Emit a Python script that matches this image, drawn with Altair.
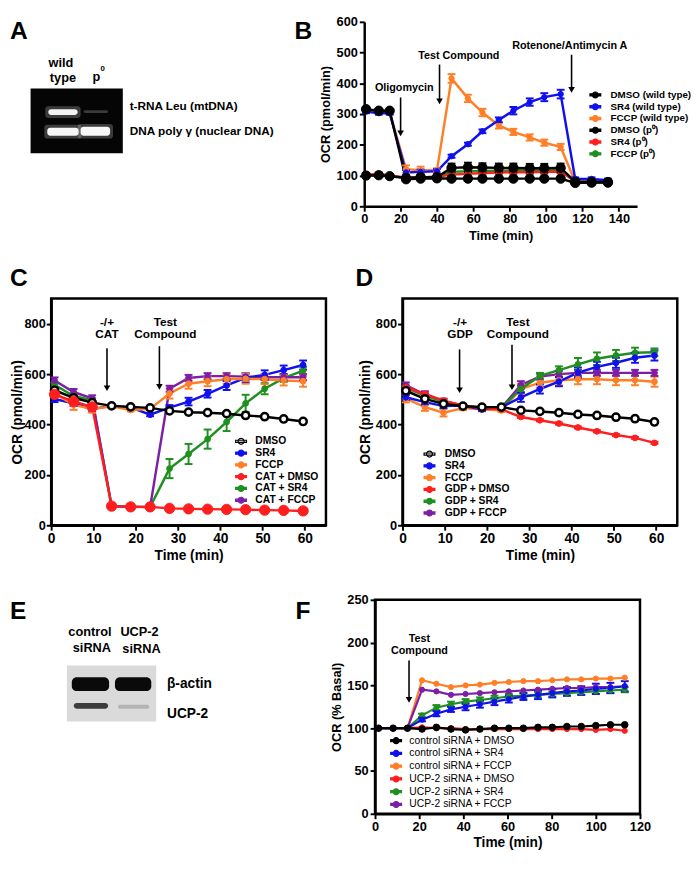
import altair as alt
import pandas as pd

FONT = "Liberation Sans"
BLACK, BLUE, ORANGE, RED, GREEN, PURPLE, WHITE = (
    "#000000", "#1010ee", "#ff7f27", "#ff1e1e", "#1f8f1f", "#7d1fa5", "#ffffff")
LEGEND_PATH = ("M-1,-0.2L1,-0.2L1,0.2L-1,0.2Z "
               "M0.55,0A0.55,0.55,0,1,1,-0.55,0A0.55,0.55,0,1,1,0.55,0Z")

# ======================= DATA =======================
# ---- Panel B : OCR (pmol/min), wild type vs p0 cells
b_time = [1, 8, 14, 23, 31, 40, 48, 57, 65, 74, 82, 91, 99, 108, 116, 125, 134]
b_names = ["DMSO (wild type)", "SR4 (wild type)", "FCCP (wild type)",
           "DMSO (p⁰)", "SR4 (p⁰)", "FCCP (p⁰)"]
b_dmso_wt = [316, 311, 311, 88, 90, 91, 90, 90, 90, 90, 90, 90, 90, 90, 76, 77, 77]
b_sr4_wt = [308, 303, 303, 110, 112, 114, 163, 202, 244, 281, 311, 339, 355, 365, 89, 89, 85]
b_fccp_wt = [312, 306, 305, 121, 117, 117, 416, 351, 305, 263, 242, 224, 207, 193, 80, 82, 82]
b_dmso_p0 = [100, 101, 98, 92, 95, 95, 125, 127, 126, 125, 125, 124, 124, 125, 80, 79, 79]
b_sr4_p0 = [103, 105, 100, 93, 94, 96, 103, 106, 108, 110, 111, 111, 112, 113, 82, 80, 80]
b_fccp_p0 = [100, 102, 99, 93, 94, 96, 112, 114, 115, 116, 117, 117, 118, 118, 78, 78, 78]
b_err_dmso_wt = [6, 5, 5, 4, 4, 4, 4, 4, 4, 4, 4, 4, 4, 4, 3, 3, 3]
b_err_sr4_wt = [5, 5, 5, 8, 8, 8, 5, 5, 6, 8, 12, 12, 13, 14, 5, 5, 5]
b_err_fccp_wt = [5, 5, 5, 12, 12, 6, 14, 12, 12, 10, 10, 10, 10, 10, 5, 5, 5]
b_err_dmso_p0 = [6, 6, 4, 5, 5, 5, 14, 15, 14, 14, 14, 14, 14, 14, 6, 4, 4]
b_err_sr4_p0 = [6, 6, 3, 3, 3, 3, 6, 6, 6, 6, 6, 6, 6, 6, 3, 3, 3]
b_err_fccp_p0 = [4, 4, 3, 3, 3, 3, 8, 8, 8, 8, 8, 8, 8, 8, 3, 3, 3]

# ---- Panel C : carboxyatractyloside (CAT)
c_time = [0.8, 5.3, 9.7, 14.3, 18.8, 23.4, 28.0, 32.5, 37.0, 41.5, 46.0, 50.5, 55.0, 59.6]
c_names = ["DMSO", "SR4", "FCCP", "CAT + DMSO", "CAT + SR4", "CAT + FCCP"]
c_dmso = [536, 506, 487, 474, 470, 466, 454, 449, 447, 443, 436, 431, 422, 412]
c_sr4 = [501, 484, 462, 474, 468, 439, 467, 491, 522, 555, 585, 597, 616, 636]
c_fccp = [523, 478, 462, 472, 458, 462, 523, 562, 572, 580, 582, 580, 575, 572]
c_cat_dmso = [520, 492, 470, 76, 73, 73, 67, 65, 64, 63, 62, 60, 59, 57]
c_cat_sr4 = [558, 513, 496, 75, 73, 72, 225, 283, 342, 410, 484, 542, 584, 614]
c_cat_fccp = [575, 529, 504, 76, 74, 72, 542, 585, 592, 592, 590, 588, 588, 588]
c_err_dmso = [8, 6, 5, 4, 4, 4, 4, 4, 4, 4, 4, 4, 4, 4]
c_err_sr4 = [12, 10, 10, 6, 6, 6, 10, 15, 15, 18, 18, 18, 18, 18]
c_err_fccp = [10, 20, 15, 6, 6, 6, 20, 20, 20, 18, 20, 20, 20, 22]
c_err_cat_dmso = [6, 5, 5, 6, 5, 5, 4, 4, 4, 4, 4, 4, 4, 4]
c_err_cat_sr4 = [10, 10, 8, 8, 8, 6, 38, 40, 38, 36, 34, 22, 15, 15]
c_err_cat_fccp = [12, 12, 12, 8, 8, 6, 12, 12, 12, 12, 12, 12, 12, 12]

# ---- Panel D : GDP
d_time = [0.8, 5.3, 9.7, 14.3, 18.8, 23.4, 28.0, 32.5, 37.0, 41.5, 46.0, 50.5, 55.0, 59.6]
d_names = ["DMSO", "SR4", "FCCP", "GDP + DMSO", "GDP + SR4", "GDP + FCCP"]
d_dmso = [534, 502, 482, 473, 469, 469, 456, 452, 447, 440, 436, 429, 423, 410]
d_sr4 = [508, 489, 473, 475, 460, 469, 508, 541, 570, 606, 629, 645, 665, 674]
d_fccp = [503, 469, 447, 465, 460, 456, 541, 566, 576, 580, 580, 576, 576, 570]
d_gdp_dmso = [547, 521, 495, 476, 465, 460, 430, 417, 404, 388, 373, 358, 347, 327]
d_gdp_sr4 = [545, 515, 490, 475, 468, 467, 541, 593, 616, 639, 661, 674, 685, 687]
d_gdp_fccp = [555, 520, 493, 475, 466, 466, 557, 590, 600, 605, 605, 605, 605, 605]
d_err_dmso = [8, 6, 5, 4, 4, 4, 4, 4, 4, 4, 4, 4, 4, 4]
d_err_sr4 = [10, 10, 8, 6, 6, 6, 18, 18, 18, 20, 20, 20, 20, 20]
d_err_fccp = [15, 15, 15, 8, 8, 6, 20, 20, 20, 20, 20, 20, 20, 20]
d_err_gdp_dmso = [6, 5, 5, 4, 4, 4, 4, 4, 4, 4, 4, 4, 4, 4]
d_err_gdp_sr4 = [10, 8, 8, 6, 6, 6, 12, 12, 15, 25, 25, 22, 20, 15]
d_err_gdp_fccp = [12, 12, 10, 6, 6, 6, 15, 12, 12, 12, 12, 12, 12, 12]

# ---- Panel F : OCR (% basal), siRNA
f_time = [1.6, 8.2, 14.7, 21.3, 27.8, 34.4, 41.0, 47.5, 54.1, 60.6, 67.2,
          73.8, 80.3, 86.9, 93.4, 100.0, 106.6, 113.1]
f_names = ["control siRNA + DMSO", "control siRNA + SR4", "control siRNA + FCCP",
           "UCP-2 siRNA + DMSO", "UCP-2 siRNA + SR4", "UCP-2 siRNA + FCCP"]
f_ctrl_dmso = [100, 100, 100, 99, 101, 99, 98, 99, 100, 100, 100, 101, 101, 102, 102, 103, 104, 104]
f_ctrl_sr4 = [100, 100, 100, 110, 117, 122, 125, 128, 131, 134, 137, 139, 141, 143, 144, 146, 147, 149]
f_ctrl_fccp = [100, 100, 100, 156, 152, 148, 150, 151, 153, 154, 155, 155, 156, 157, 157, 158, 158, 159]
f_ucp_dmso = [100, 100, 100, 101, 100, 100, 99, 99, 99, 99, 99, 99, 99, 99, 99, 98, 99, 97]
f_ucp_sr4 = [100, 100, 100, 115, 124, 128, 131, 133, 135, 137, 138, 139, 140, 141, 142, 143, 144, 145]
f_ucp_fccp = [100, 100, 100, 145, 143, 139, 140, 141, 142, 143, 144, 145, 146, 147, 147, 148, 148, 149]
f_err_none = [0, 0, 0, 0, 0, 0, 0, 0, 0, 0, 0, 0, 0, 0, 0, 0, 0, 0]
f_err_ctrl_sr4 = [0, 0, 0, 2, 3, 3, 4, 4, 4, 4, 4, 5, 5, 5, 5, 6, 6, 6]
f_err_ucp_sr4 = [0, 0, 0, 2, 3, 3, 3, 3, 3, 3, 3, 3, 3, 3, 3, 3, 3, 3]

# ---- annotations (label, time, value) and arrows (time, top, bottom)
b_notes = [("Oligomycin", 22, 385), ("Test Compound", 52, 489), ("Rotenone/Antimycin A", 113, 521)]
b_arrows = [(20, 354, 237), (41.4, 461, 341), (114, 493, 379)]
c_notes = [("-/+", 13.2, 808), ("CAT", 13.2, 758), ("Test", 27.0, 808), ("Compound", 27.0, 758)]
c_arrows = [(13.2, 703, 544), (25.6, 711, 549)]
d_notes = [("-/+", 13.6, 808), ("GDP", 13.6, 758), ("Test", 27.3, 808), ("Compound", 27.3, 758)]
d_arrows = [(13.5, 698, 536), (25.9, 717, 548)]
f_notes = [("Test", 20.1, 204), ("Compound", 20.1, 190)]
f_arrows = [(15.4, 179, 133)]

# ---- gel (A) and blot (E) pictures: (x0, x1, y0, y1, colour, opacity)
a_back = [(-21, 73, 68, 134, "#050505", 1.0)]
a_bands = [(-6, 30, 86, 98, WHITE, 0.22), (-3, 27, 89, 95, "#f2f2f2", 1.0),
           (-7, 31, 105, 119, WHITE, 0.22), (-4, 28, 108, 116, "#f5f5f5", 1.0),
           (33, 58, 90, 93, "#3a3a3a", 1.0),
           (27, 63, 104, 119, WHITE, 0.22), (30, 60, 107, 116, "#f8f8f8", 1.0)]
a_center_text = [("wild", 10, 42, 13), ("type", 12, 57, 13), ("p", 46, 56, 13), ("0", 52.5, 48, 8)]
a_left_text = [("t-RNA Leu (mtDNA)", 80, 86, 12), ("DNA poly γ  (nuclear DNA)", 80, 111.5, 12)]
e_back = [(16, 107, 67, 124, "#dadada", 1.0)]
e_bands = [(21, 59, 79, 93, "#0a0a0a", 1.0), (65, 102, 79, 93, "#0a0a0a", 1.0),
           (23, 58, 105, 111, "#3c3c3c", 1.0), (68, 100, 107, 111, "#b4b4b4", 1.0)]
e_center_text = [("control", 39.5, 33, 13), ("siRNA", 41.5, 49, 13), ("UCP-2", 90, 33, 13),
                 ("siRNA", 92, 50, 13)]
e_left_text = [("β-actin", 118, 86, 14), ("UCP-2", 118, 116, 14)]


# ======================= HELPERS =======================
def series_df(time, names, values, errors, order):
    rows = []
    for name in order:
        i = names.index(name)
        for t, v, e in zip(time, values[i], errors[i]):
            rows.append({"t": t, "v": v, "lo": v - e, "hi": v + e, "s": name})
    return pd.DataFrame(rows)


def mk_axis(values, title, lab_fs, title_fs, pad, lab_pad=2):
    return alt.Axis(values=values, title=title, grid=False, format="d",
                    domainColor=BLACK, domainWidth=2.5, tickColor=BLACK, tickWidth=2,
                    tickSize=5, labelFont=FONT, labelFontSize=lab_fs, labelFontWeight="bold",
                    labelColor=BLACK, labelPadding=lab_pad, labelFlush=False,
                    labelOverlap=False, titleFont=FONT, titleFontSize=title_fs,
                    titleFontWeight="bold", titleColor=BLACK, titlePadding=pad)


def mk_legend(x, y, fs, weight, offset, rowpad, ssize):
    return alt.Legend(title=None, orient="none", legendX=x, legendY=y, symbolType=LEGEND_PATH,
                      symbolSize=ssize, symbolStrokeWidth=1.2, labelFont=FONT,
                      labelFontSize=fs, labelFontWeight=weight, labelColor=BLACK,
                      labelOffset=offset, rowPadding=rowpad, padding=0, labelLimit=300)


def line_panel(df, names, colors, fills, styles, xdom, ydom, xaxis, yaxis, legend, line_w,
               notes, arrows, note_fs, letter, letter_xy, w, h, frame):
    xs = alt.Scale(domain=xdom, nice=False, zero=False)
    ys = alt.Scale(domain=ydom, nice=False, zero=False)
    X = alt.X("t:Q", scale=xs, axis=xaxis)
    Y = alt.Y("v:Q", scale=ys, axis=yaxis)
    STROKE = alt.Stroke("s:N", scale=alt.Scale(domain=names, range=colors), legend=legend)
    FILL = alt.Fill("s:N", scale=alt.Scale(domain=names, range=fills), legend=legend)
    base = alt.Chart(df)
    layers = [base.mark_line(strokeWidth=line_w).encode(X, Y, stroke=STROKE)]
    errs = base.transform_filter("datum.hi > datum.lo")
    layers.append(errs.mark_rule(strokeWidth=2).encode(
        X, alt.Y("lo:Q", scale=ys, axis=yaxis), y2="hi:Q", stroke=STROKE))
    layers.append(errs.transform_fold(["lo", "hi"], as_=["k", "e"]).mark_point(
        shape="stroke", size=64, strokeWidth=2, opacity=1).encode(
        X, alt.Y("e:Q", scale=ys, axis=yaxis), stroke=STROKE))
    for members, size, sw in styles:
        layers.append(base.transform_filter(
            alt.FieldOneOfPredicate(field="s", oneOf=members)).mark_point(
            filled=False, opacity=1, size=size, strokeWidth=sw).encode(
            X, Y, stroke=STROKE, fill=FILL))
    adf = pd.DataFrame(arrows, columns=["t", "top", "bot"])
    layers.append(alt.Chart(adf).mark_rule(strokeWidth=1.6, color=BLACK).encode(
        X, alt.Y("top:Q", scale=ys, axis=yaxis), y2="bot:Q"))
    layers.append(alt.Chart(adf).mark_point(shape="triangle-down", filled=True, size=45,
                                            color=BLACK, opacity=1).encode(
        X, alt.Y("bot:Q", scale=ys, axis=yaxis)))
    ndf = pd.DataFrame(notes, columns=["label", "t", "v"])
    layers.append(alt.Chart(ndf).mark_text(font=FONT, fontSize=note_fs, fontWeight="bold",
                                           color=BLACK).encode(
        X, alt.Y("v:Q", scale=ys, axis=yaxis), text="label:N"))
    layers.append(alt.Chart(pd.DataFrame({"L": [letter]})).mark_text(
        font=FONT, fontSize=25, fontWeight="bold", align="left", baseline="top",
        color=BLACK).encode(x=alt.value(letter_xy[0]), y=alt.value(letter_xy[1]), text="L:N"))
    ch = alt.layer(*layers).properties(width=w, height=h)
    if frame:
        ch = ch.properties(view=alt.ViewBackground(stroke=BLACK, strokeWidth=2.5))
    return ch


def picture(back, bands, ctext, ltext, letter, w, h, radius):
    xs = alt.Scale(domain=[0, w], nice=False, zero=False)
    ys = alt.Scale(domain=[0, h], nice=False, zero=False, reverse=True)
    cols = ["x0", "x1", "y0", "y1", "c", "o"]

    def rect_layer(rows, r):
        return alt.Chart(pd.DataFrame(rows, columns=cols)).mark_rect(cornerRadius=r).encode(
            x=alt.X("x0:Q", scale=xs, axis=None), x2="x1:Q",
            y=alt.Y("y0:Q", scale=ys, axis=None), y2="y1:Q",
            fill=alt.Fill("c:N", scale=None), opacity=alt.Opacity("o:Q", scale=None))

    def text_layer(rows, align):
        return alt.Chart(pd.DataFrame(rows, columns=["label", "x", "y", "fs"])).mark_text(
            font=FONT, fontWeight="bold", align=align, baseline="middle", color=BLACK).encode(
            x=alt.X("x:Q", scale=xs, axis=None), y=alt.Y("y:Q", scale=ys, axis=None),
            text="label:N", size=alt.Size("fs:Q", scale=None))

    let = alt.Chart(pd.DataFrame({"L": [letter[0]], "x": [letter[1]],
                                  "y": [letter[2]]})).mark_text(
        font=FONT, fontSize=25, fontWeight="bold", align="left", baseline="top",
        color=BLACK).encode(x=alt.X("x:Q", scale=xs, axis=None),
                            y=alt.Y("y:Q", scale=ys, axis=None), text="L:N")
    return alt.layer(rect_layer(back, 0), rect_layer(bands, radius),
                     text_layer(ctext, "center"), text_layer(ltext, "left"), let
                     ).properties(width=w, height=h)


RES = dict(color="independent", stroke="independent", fill="independent",
           size="independent", opacity="independent")

# ======================= PANELS =======================
panel_a = picture(a_back, a_bands, a_center_text, a_left_text, ("A", -42, -3), 240, 188, 3)

b_df = series_df(b_time, b_names,
                 [b_dmso_wt, b_sr4_wt, b_fccp_wt, b_dmso_p0, b_sr4_p0, b_fccp_p0],
                 [b_err_dmso_wt, b_err_sr4_wt, b_err_fccp_wt, b_err_dmso_p0, b_err_sr4_p0,
                  b_err_fccp_p0],
                 ["FCCP (p⁰)", "SR4 (p⁰)", "FCCP (wild type)", "SR4 (wild type)",
                  "DMSO (p⁰)", "DMSO (wild type)"])
panel_b = line_panel(
    b_df, b_names, [BLACK, BLUE, ORANGE, BLACK, RED, GREEN],
    [BLACK, BLUE, ORANGE, BLACK, RED, GREEN],
    [(["FCCP (p⁰)", "SR4 (p⁰)", "FCCP (wild type)", "SR4 (wild type)"], 30, 1),
     (["DMSO (p⁰)", "DMSO (wild type)"], 90, 1)],
    [0, 150], [0, 600],
    mk_axis([0, 20, 40, 60, 80, 100, 120, 140], "Time (min)", 13, 13, 4),
    mk_axis([0, 100, 200, 300, 400, 500, 600], "OCR  (pmol/min)", 13, 13, 4),
    mk_legend(229, 68, 10, "bold", 9, 0, 121), 2.5, b_notes, b_arrows, 11,
    "B", (-71, -3), 278, 188, False)

c_df = series_df(c_time, c_names, [c_dmso, c_sr4, c_fccp, c_cat_dmso, c_cat_sr4, c_cat_fccp],
                 [c_err_dmso, c_err_sr4, c_err_fccp, c_err_cat_dmso, c_err_cat_sr4,
                  c_err_cat_fccp],
                 ["CAT + SR4", "CAT + FCCP", "SR4", "FCCP", "DMSO", "CAT + DMSO"])
panel_c = line_panel(
    c_df, c_names, [BLACK, BLUE, ORANGE, RED, GREEN, PURPLE],
    [WHITE, BLUE, ORANGE, RED, GREEN, PURPLE],
    [(["CAT + SR4", "CAT + FCCP", "SR4", "FCCP"], 35, 1), (["DMSO"], 55, 2.5),
     (["CAT + DMSO"], 110, 1)],
    [0, 65], [0, 900],
    mk_axis([0, 10, 20, 30, 40, 50, 60], "Time (min)", 14, 14, 3),
    mk_axis([0, 200, 400, 600, 800], "OCR  (pmol/min)", 13, 14, 0, 1),
    mk_legend(187, 139, 10.5, "bold", 8, 0, 121), 2.5, c_notes, c_arrows, 12,
    "C", (-42, -33), 280, 231, True)

d_df = series_df(d_time, d_names, [d_dmso, d_sr4, d_fccp, d_gdp_dmso, d_gdp_sr4, d_gdp_fccp],
                 [d_err_dmso, d_err_sr4, d_err_fccp, d_err_gdp_dmso, d_err_gdp_sr4,
                  d_err_gdp_fccp],
                 ["FCCP", "GDP + FCCP", "GDP + SR4", "SR4", "GDP + DMSO", "DMSO"])
panel_d = line_panel(
    d_df, d_names, [BLACK, BLUE, ORANGE, RED, GREEN, PURPLE],
    [WHITE, BLUE, ORANGE, RED, GREEN, PURPLE],
    [(["FCCP", "GDP + FCCP", "GDP + SR4", "SR4", "GDP + DMSO"], 35, 1), (["DMSO"], 55, 2.5)],
    [0, 65], [0, 900],
    mk_axis([0, 10, 20, 30, 40, 50, 60], "Time (min)", 14, 14, 3),
    mk_axis([0, 200, 400, 600, 800], "OCR  (pmol/min)", 13, 14, 3, 1),
    mk_legend(21, 152, 10.5, "bold", 9, 0, 121), 2.5, d_notes, d_arrows, 12,
    "D", (-48, -33), 280, 231, True)

panel_e = picture(e_back, e_bands, e_center_text, e_left_text, ("E", -42, 0), 240, 200, 5)

f_df = series_df(f_time, f_names,
                 [f_ctrl_dmso, f_ctrl_sr4, f_ctrl_fccp, f_ucp_dmso, f_ucp_sr4, f_ucp_fccp],
                 [f_err_none, f_err_ctrl_sr4, f_err_none, f_err_none, f_err_ucp_sr4, f_err_none],
                 ["UCP-2 siRNA + DMSO", "control siRNA + FCCP", "UCP-2 siRNA + FCCP",
                  "UCP-2 siRNA + SR4", "control siRNA + SR4", "control siRNA + DMSO"])
panel_f = line_panel(
    f_df, f_names, [BLACK, BLUE, ORANGE, RED, GREEN, PURPLE],
    [BLACK, BLUE, ORANGE, RED, GREEN, PURPLE],
    [(["UCP-2 siRNA + DMSO", "control siRNA + FCCP", "UCP-2 siRNA + FCCP",
       "UCP-2 siRNA + SR4", "control siRNA + SR4"], 28, 1),
     (["control siRNA + DMSO"], 45, 1)],
    [0, 120], [0, 250],
    mk_axis([0, 20, 40, 60, 80, 100, 120], "Time (min)", 13, 14, 2),
    mk_axis([0, 50, 100, 150, 200, 250], "OCR  (% Basal)", 13, 13, 3),
    mk_legend(15, 137, 10.5, "normal", 7, 1.0, 121), 2.2, f_notes, f_arrows, 11,
    "F", (-81, 0), 270, 218, True)

row1 = alt.hconcat(panel_a, panel_b, spacing=8).resolve_scale(**RES)
row2 = alt.hconcat(panel_c, panel_d, spacing=26).resolve_scale(**RES)
row3 = alt.hconcat(panel_e, panel_f, spacing=7).resolve_scale(**RES)
top = alt.vconcat(row1, row2, spacing=22).resolve_scale(**RES)
chart = alt.vconcat(top, row3, spacing=28).resolve_scale(**RES).properties(
    padding=0).configure_view(stroke=None)

chart.save("out.html", embed_options={"renderer": "svg", "actions": False})
